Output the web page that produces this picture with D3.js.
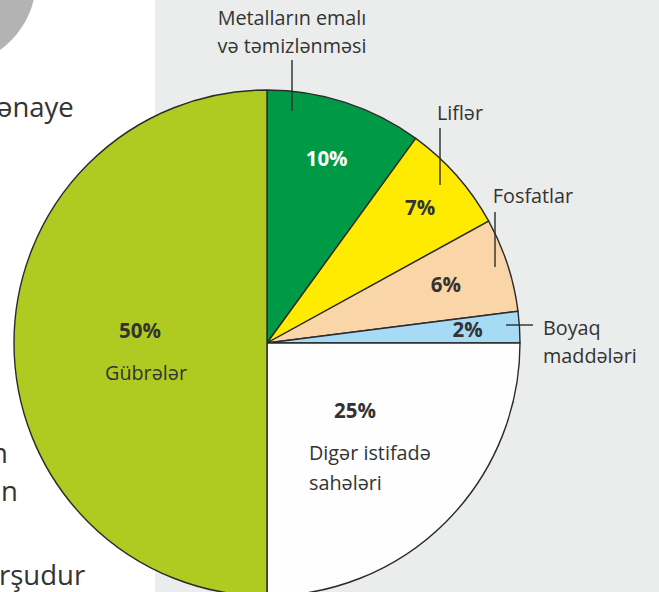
<!DOCTYPE html>
<html>
<head>
<meta charset="utf-8">
<script src="https://cdn.jsdelivr.net/npm/d3@7"></script>
<style>
  html, body { margin: 0; padding: 0; background: #fff; }
  svg { display: block; }
  text { font-family: "Open Sans", "Noto Sans", sans-serif; fill: #333; }
</style>
</head>
<body>
<svg id="chart" width="659" height="592"></svg>
<script>
// Shares of use (percent), clockwise from 12 o'clock
const categories = ["Metalların emalı və təmizlənməsi", "Liflər", "Fosfatlar", "Boyaq maddələri", "Digər istifadə sahələri", "Gübrələr"];
const values = [10, 7, 6, 2, 25, 50];
const percentLabels = ["10%", "7%", "6%", "2%", "25%", "50%"];
const sliceColors = ["#009a46", "#ffeb00", "#fad5a7", "#a7dbf5", "#fefefe", "#afca21"];

// Outside captions (lines of text) for the small slices
const captionLines = [
  ["Metalların emalı", "və təmizlənməsi"],
  ["Liflər"],
  ["Fosfatlar"],
  ["Boyaq", "maddələri"]
];
// Inside captions for the two large slices
const innerCaptions = { 4: ["Digər istifadə", "sahələri"], 5: ["Gübrələr"] };

const W = 659, H = 592;
const cx = 267, cy = 343, R = 253;
const captionSize = 19.8;
const pctSize = 20.5;
const svg = d3.select("#chart");

// page background: white margin column, grey panel, decorative disc
svg.append("rect").attr("x", 0).attr("y", 0).attr("width", W).attr("height", H).attr("fill", "#ffffff");
svg.append("rect").attr("x", 155).attr("y", 0).attr("width", W - 155).attr("height", H).attr("fill", "#ebecec");
svg.append("circle").attr("cx", -50).attr("cy", -20).attr("r", 86).attr("fill", "#b3b3b3");

// fragments of the running text in the margin
const margin = svg.append("g").attr("font-size", 27.5);
margin.append("text").attr("x", -3).attr("y", 117).text("ənaye");
margin.append("text").attr("x", -9).attr("y", 463).text("n");
margin.append("text").attr("x", 1).attr("y", 501).text("n");
margin.append("text").attr("x", -1).attr("y", 585).text("rşudur");

const pie = d3.pie().sort(null).value(d => d)(values);
const arc = d3.arc().innerRadius(0).outerRadius(R);

const g = svg.append("g").attr("transform", `translate(${cx},${cy})`);
g.selectAll("path.slice")
  .data(pie)
  .join("path")
  .attr("class", "slice")
  .attr("d", arc)
  .attr("fill", (d, i) => sliceColors[i])
  .attr("stroke", "#2b2b2b")
  .attr("stroke-width", 1.4)
  .attr("stroke-linejoin", "round");

// percent labels: small slices sit on their mid-angle, large ones are offset
const pctRadius = [193, 204, 188, 201];
const bigOffsets = { 4: [88, 68], 5: [-127, -12] };
pie.forEach((d, i) => {
  let x, y;
  if (i < 4) {
    const a = (d.startAngle + d.endAngle) / 2;
    x = Math.sin(a) * pctRadius[i];
    y = -Math.cos(a) * pctRadius[i];
  } else {
    [x, y] = bigOffsets[i];
  }
  g.append("text")
    .attr("x", x).attr("y", y + 7)
    .attr("text-anchor", "middle")
    .attr("font-size", pctSize)
    .attr("font-weight", "bold")
    .style("fill", i === 0 ? "#ffffff" : "#333")
    .text(percentLabels[i]);
});

// captions inside the large slices
g.append("text").attr("x", -121).attr("y", 37).attr("text-anchor", "middle").attr("font-size", captionSize).text(innerCaptions[5][0]);
innerCaptions[4].forEach((t, k) => {
  g.append("text").attr("x", 42).attr("y", 117 + k * 30).attr("font-size", captionSize).text(t);
});

// outside captions with leader lines
const callouts = [
  { tx: 25, ty: -318, anchor: "middle", line: [[25, -283], [25, -232]] },
  { tx: 193, ty: -223, anchor: "middle", line: [[173, -215], [173, -158]] },
  { tx: 266, ty: -140, anchor: "middle", line: [[228, -131], [228, -76]] },
  { tx: 276, ty: -8, anchor: "start", line: [[239, -18], [266, -18]] }
];
callouts.forEach((c, i) => {
  g.append("line")
    .attr("x1", c.line[0][0]).attr("y1", c.line[0][1])
    .attr("x2", c.line[1][0]).attr("y2", c.line[1][1])
    .attr("stroke", "#2b2b2b").attr("stroke-width", 1.4);
  captionLines[i].forEach((t, k) => {
    g.append("text")
      .attr("x", c.tx).attr("y", c.ty + k * 28)
      .attr("text-anchor", c.anchor)
      .attr("font-size", captionSize)
      .text(t);
  });
});
</script>
</body>
</html>
